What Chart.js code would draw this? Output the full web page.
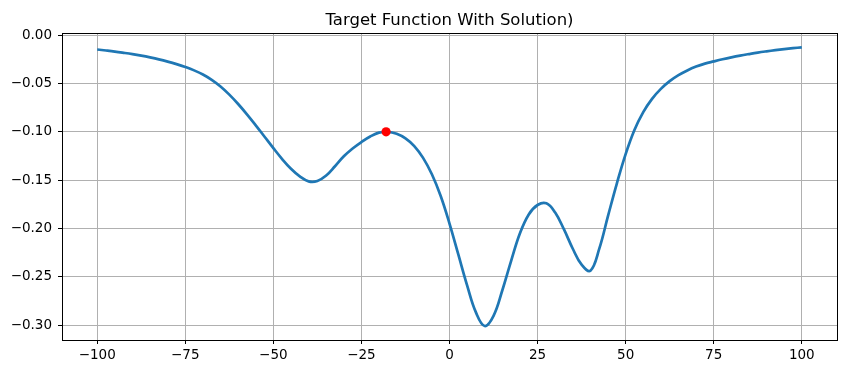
<!DOCTYPE html>
<html>
<head>
<meta charset="utf-8">
<script src="https://cdn.jsdelivr.net/npm/chart.js@4.4.1/dist/chart.umd.min.js"></script>
<style>
  body { margin: 0; background: #fff; }
  canvas { display: block; }
</style>
</head>
<body>
<canvas id="TargetFunction" width="847" height="374"></canvas>
<script>
var title = "Target Function With Solution)"
var xs = [-100, -97.5, -95, -92.5, -90, -87.5, -85, -82.5, -80, -77.5, -75, -72.5, -70, -67.5, -65, -62.5, -60, -57.5, -55, -52.5, -50, -47.5, -45, -42.5, -40, -37.5, -35, -32.5, -30, -27.5, -25, -22.5, -20, -17.5, -15, -12.5, -10, -7.5, -5, -2.5, 0, 2.5, 5, 7.5, 10, 12.5, 15, 17.5, 20, 22.5, 25, 27.5, 30, 32.5, 35, 37.5, 40, 42.5, 45, 47.5, 50, 52.5, 55, 57.5, 60, 62.5, 65, 67.5, 70, 72.5, 75, 77.5, 80, 82.5, 85, 87.5, 90, 92.5, 95, 97.5, 100]
var ys = [-0.0147, -0.0157, -0.0168, -0.0181, -0.0195, -0.0211, -0.0229, -0.0249, -0.0272, -0.0298, -0.0328, -0.0363, -0.0406, -0.0461, -0.0530, -0.0614, -0.0711, -0.0818, -0.0932, -0.1050, -0.1168, -0.1281, -0.1382, -0.1461, -0.1512, -0.1508, -0.1452, -0.1356, -0.1253, -0.1172, -0.1105, -0.1048, -0.1008, -0.0999, -0.1020, -0.1067, -0.1147, -0.1269, -0.1439, -0.1664, -0.1949, -0.2269, -0.2589, -0.2869, -0.3010, -0.2905, -0.2640, -0.2335, -0.2050, -0.1855, -0.1757, -0.1740, -0.1835, -0.2010, -0.2210, -0.2375, -0.2437, -0.2212, -0.1870, -0.1535, -0.1230, -0.0980, -0.0795, -0.0658, -0.0555, -0.0475, -0.0413, -0.0364, -0.0324, -0.0293, -0.0270, -0.0248, -0.0228, -0.0210, -0.0194, -0.0179, -0.0166, -0.0154, -0.0143, -0.0133, -0.0124]
var solutionX = [-18]
var solutionY = [-0.0999]
var xTicks = [-100, -75, -50, -25, 0, 25, 50, 75, 100]
var yTicks = [0, -0.05, -0.10, -0.15, -0.20, -0.25, -0.30]

var font = "'DejaVu Sans', sans-serif"

// box round the plot + title centred over the axes (like matplotlib)
var frame = {
    id: 'frame',
    afterDraw: function (chart) {
        var a = chart.chartArea
        var ctx = chart.ctx
        ctx.save()
        ctx.strokeStyle = '#000'
        ctx.lineWidth = 1
        ctx.strokeRect(Math.round(a.left) + 0.5, Math.round(a.top) + 0.5, Math.round(a.right - a.left), Math.round(a.bottom - a.top))
        ctx.fillStyle = '#000'
        ctx.font = '16.5px ' + font
        ctx.textAlign = 'center'
        ctx.textBaseline = 'alphabetic'
        ctx.fillText(title, (a.left + a.right) / 2, 25)
        ctx.restore()
    }
}

var tf = document.getElementById("TargetFunction");
var TargetFunction = new Chart(tf, {
    type: 'line',
    data: {
        datasets: [
            {
                data: solutionX.map(function (x, i) { return { x: x, y: solutionY[i] } }),
                showLine: false,
                pointRadius: 4.6,
                pointBackgroundColor: "#ff0000",
                pointBorderWidth: 0,
                order: 0
            },
            {
                data: xs.map(function (x, i) { return { x: x, y: ys[i] } }),
                borderColor: "#1f77b4",
                borderWidth: 2.7,
                pointRadius: 0,
                tension: 0.4,
                fill: false,
                order: 1
            }
        ]
    },
    plugins: [frame],
    options: {
        responsive: false,
        animation: false,
        devicePixelRatio: 1,
        layout: { padding: { top: 33, right: 10, left: 0, bottom: 0 } },
        plugins: {
            legend: { display: false },
            tooltip: { enabled: false },
            title: { display: false }
        },
        scales: {
            x: {
                type: 'linear',
                min: -110,
                max: 110,
                afterBuildTicks: function (s) { s.ticks = xTicks.map(function (v) { return { value: v } }) },
                afterFit: function (s) { s.height = 34 },
                grid: { color: '#b0b0b0', lineWidth: 1, tickColor: '#000', tickLength: 4 },
                border: { color: '#000' },
                ticks: {
                    color: '#000',
                    padding: 3,
                    maxRotation: 0,
                    font: { family: font, size: 13.5 },
                    callback: function (v) { return (v < 0 ? '\u2212' : '') + Math.abs(v) }
                }
            },
            y: {
                min: -0.3155,
                max: 0.0024,
                afterBuildTicks: function (s) { s.ticks = yTicks.map(function (v) { return { value: v } }) },
                afterFit: function (s) { s.width = 62 },
                grid: { color: '#b0b0b0', lineWidth: 1, tickColor: '#000', tickLength: 4 },
                border: { color: '#000' },
                ticks: {
                    color: '#000',
                    padding: 6,
                    font: { family: font, size: 13.5 },
                    callback: function (v) { return (v < 0 ? '\u2212' : '') + Math.abs(v).toFixed(2) }
                }
            }
        }
    }
});
</script>
</body>
</html>
